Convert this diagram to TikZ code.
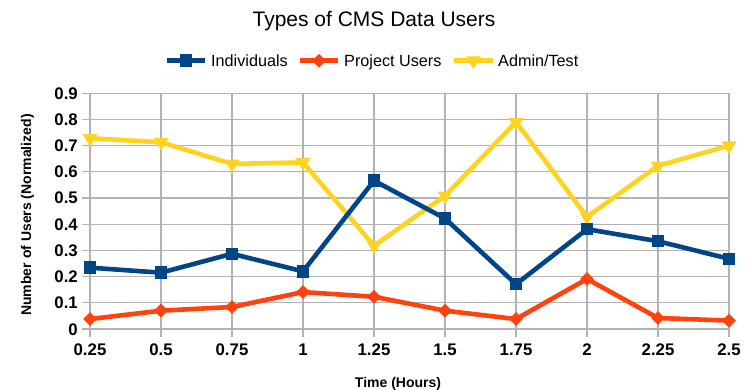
\documentclass[tikz,border=0pt]{standalone}
\usepackage{fontspec}
\setmainfont{Liberation Sans}
\usetikzlibrary{shapes.geometric}
\definecolor{serblue}{HTML}{004586}
\definecolor{serorange}{HTML}{FF420E}
\definecolor{seryellow}{HTML}{FFD320}
\definecolor{gridgray}{HTML}{B3B3B3}

\begin{document}
\begin{tikzpicture}[x=1pt,y=-1pt,
  gridline/.style={draw=gridgray,line width=1.3pt},
  serline/.style={line width=4.6pt,line join=round},
  ticklab/.style={font=\fontsize{16.8}{18}\selectfont\bfseries,inner sep=0pt},
  axlab/.style={font=\fontsize{14}{16}\selectfont\bfseries,inner sep=0pt},
  legtext/.style={font=\fontsize{16.2}{18}\selectfont,inner sep=0pt,anchor=base west},
  sqmark/.style={rectangle,fill=serblue,minimum size=12.5pt,inner sep=0pt},
  dimark/.style={diamond,fill=serorange,minimum size=14pt,inner sep=0pt},
  trmark/.style={regular polygon,regular polygon sides=3,shape border rotate=180,
                 fill=seryellow,minimum size=17pt,inner sep=0pt}]
\useasboundingbox (0,0) rectangle (754,390);

% title
\node[font=\fontsize{21}{24}\selectfont,anchor=base,inner sep=0pt] (title) at (374,26.7) {Types of CMS Data Users};

% grid: horizontal lines with short left ticks, vertical lines with short bottom ticks
\foreach \i in {0,...,9}
  \draw[gridline] (82,{329-\i*26.2}) -- (729.5,{329-\i*26.2});
\foreach \i in {0,...,9}
  \draw[gridline] ({90+\i*71},93.2) -- ({90+\i*71},337);

% y tick labels
\foreach \v [count=\i from 0] in {0,0.1,0.2,0.3,0.4,0.5,0.6,0.7,0.8,0.9}
  \node[ticklab,anchor=base east] (yl\i) at (78,{329-\i*26.2+6}) {\v};
% x tick labels
\foreach \t [count=\i from 0] in {0.25,0.5,0.75,1,1.25,1.5,1.75,2,2.25,2.5}
  \node[ticklab,anchor=base] (xl\i) at ({90+\i*71},355.5) {\t};

% axis titles
\node[axlab,anchor=base] (xtitle) at (398,387) {Time (Hours)};
\node[axlab,anchor=base,rotate=90] (ytitle) at (31,215) {Number of Users (Normalized)};

% data points
\foreach \v [count=\i from 0] in {0.234,0.215,0.287,0.220,0.566,0.422,0.171,0.381,0.335,0.268}
  \coordinate (ind\i) at ({90+\i*71},{329-\v*262});
\foreach \v [count=\i from 0] in {0.038,0.070,0.084,0.141,0.123,0.070,0.038,0.191,0.042,0.032}
  \coordinate (prj\i) at ({90+\i*71},{329-\v*262});
\foreach \v [count=\i from 0] in {0.728,0.713,0.630,0.636,0.318,0.508,0.790,0.428,0.623,0.700}
  \coordinate (adm\i) at ({90+\i*71},{329-\v*262});

% series lines
\draw[serline,seryellow] (adm0) \foreach \i in {1,...,9}{ -- (adm\i)};
\draw[serline,serblue] (ind0) \foreach \i in {1,...,9}{ -- (ind\i)};
\draw[serline,serorange] (prj0) \foreach \i in {1,...,9}{ -- (prj\i)};

% markers
\foreach \i in {0,...,9} \node[trmark] (admm\i) at (adm\i) {};
\foreach \i in {0,...,9} \node[sqmark] (indm\i) at (ind\i) {};
\foreach \i in {0,...,9} \node[dimark] (prjm\i) at (prj\i) {};

% legend
\coordinate (lgA1) at (167,60.7); \coordinate (lgA2) at (205,60.7);
\coordinate (lgB1) at (300,60.7); \coordinate (lgB2) at (338,60.7);
\coordinate (lgC1) at (454,60.7); \coordinate (lgC2) at (493,60.7);
\draw[serline,serblue] (lgA1) -- (lgA2);
\node[sqmark] (lgAm) at (186,60.7) {};
\node[legtext] (lgAt) at (211,66.5) {Individuals};
\draw[serline,serorange] (lgB1) -- (lgB2);
\node[dimark] (lgBm) at (319,60.7) {};
\node[legtext] (lgBt) at (344,66.5) {Project Users};
\draw[serline,seryellow] (lgC1) -- (lgC2);
\node[trmark] (lgCm) at (473.5,60.7) {};
\node[legtext] (lgCt) at (498,66.5) {Admin/Test};
\end{tikzpicture}
\end{document}
